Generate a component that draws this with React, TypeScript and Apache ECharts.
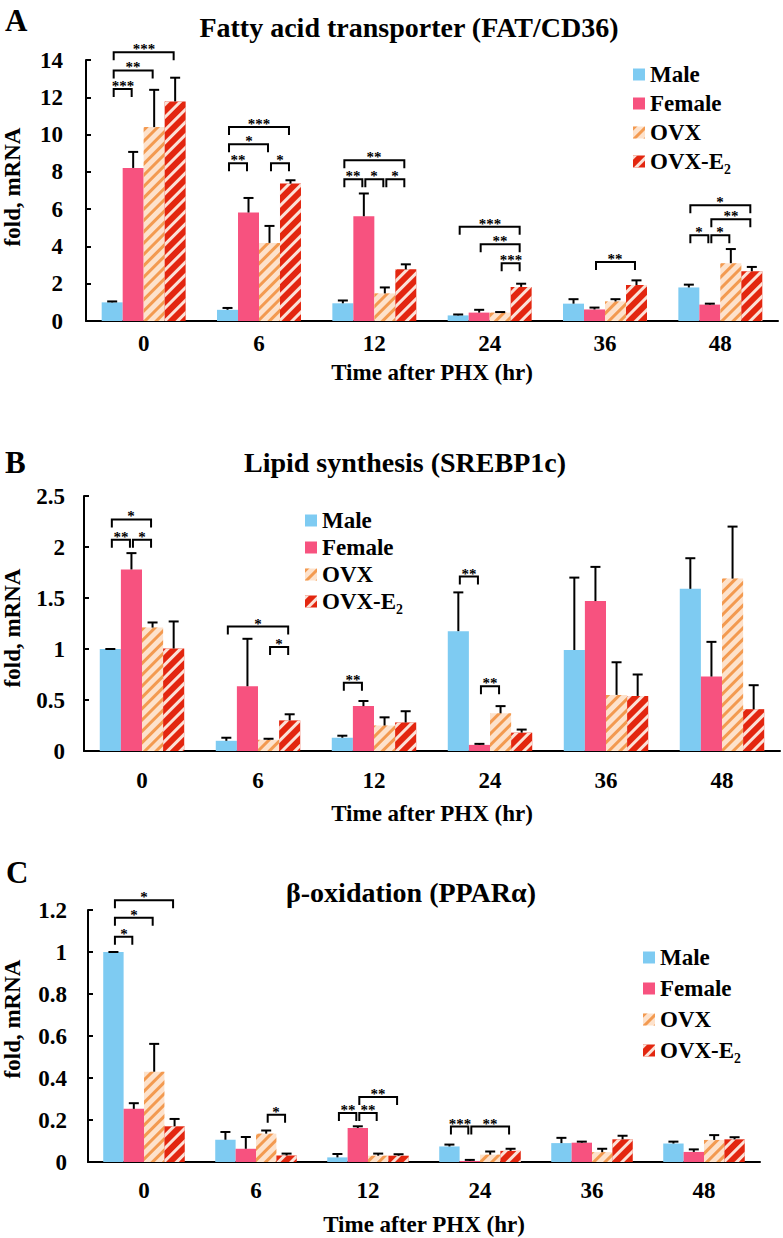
import React, { useEffect, useRef } from "react";
import * as echarts from "echarts";

const categories = ["0", "6", "12", "24", "36", "48"];
const groups = ["Male", "Female", "OVX", "OVX-E₂"];

// Panel A – FAT/CD36 (mean, and top of error bar)
const aMale = [1.0, 0.6, 0.95, 0.3, 0.93, 1.8];
const aMaleErr = [1.05, 0.7, 1.1, 0.35, 1.17, 1.95];
const aFemale = [8.21, 5.82, 5.62, 0.45, 0.62, 0.88];
const aFemaleErr = [9.07, 6.6, 6.84, 0.6, 0.72, 0.93];
const aOvx = [10.4, 4.19, 1.48, 0.45, 1.05, 3.1];
const aOvxErr = [12.4, 5.1, 1.8, 0.48, 1.17, 3.86];
const aE2 = [11.78, 7.37, 2.77, 1.83, 1.93, 2.67];
const aE2Err = [13.05, 7.55, 3.04, 2.0, 2.18, 2.9];
// brackets: [category, fromBar, toBar, height]
const aBrackets = [
  [0, 0, 1, 12.45], [0, 0, 2, 13.44], [0, 0, 3, 14.42],
  [1, 0, 3, 10.41], [1, 0, 2, 9.48], [1, 0, 1, 8.46], [1, 2, 3, 8.46],
  [2, 0, 3, 8.62], [2, 0, 1, 7.6], [2, 1, 2, 7.6], [2, 2, 3, 7.6],
  [3, 0, 3, 5.05], [3, 1, 3, 4.12], [3, 2, 3, 3.1],
  [4, 1, 3, 3.16],
  [5, 0, 3, 6.21], [5, 1, 3, 5.46], [5, 0, 1, 4.6], [5, 1, 2, 4.6],
];
const aBracketLabels = ["***", "**", "***", "***", "*", "**", "*", "**", "**", "*", "*", "***", "**", "***", "**", "*", "**", "*", "*"];

// Panel B – SREBP1c
const bMale = [1.0, 0.1, 0.13, 1.175, 0.99, 1.59];
const bMaleErr = [1.0, 0.13, 0.15, 1.555, 1.7, 1.89];
const bFemale = [1.78, 0.635, 0.44, 0.06, 1.47, 0.73];
const bFemaleErr = [1.94, 1.1, 0.49, 0.07, 1.805, 1.07];
const bOvx = [1.21, 0.11, 0.25, 0.37, 0.55, 1.69];
const bOvxErr = [1.26, 0.12, 0.33, 0.44, 0.87, 2.2];
const bE2 = [1.005, 0.3, 0.28, 0.18, 0.54, 0.41];
const bE2Err = [1.27, 0.36, 0.39, 0.21, 0.75, 0.645];
const bBrackets = [
  [0, 0, 2, 2.27], [0, 0, 1, 2.07], [0, 1, 2, 2.07],
  [1, 0, 3, 1.22], [1, 2, 3, 1.02],
  [2, 0, 1, 0.67],
  [3, 0, 1, 1.71], [3, 1, 2, 0.635],
];
const bBracketLabels = ["*", "**", "*", "*", "*", "**", "**", "**"];

// Panel C – PPARα
const cMale = [1.0, 0.106, 0.022, 0.074, 0.09, 0.088];
const cMaleErr = [1.0, 0.143, 0.038, 0.083, 0.115, 0.097];
const cFemale = [0.253, 0.063, 0.162, 0.005, 0.092, 0.048];
const cFemaleErr = [0.28, 0.119, 0.17, 0.01, 0.097, 0.06];
const cOvx = [0.43, 0.135, 0.03, 0.035, 0.047, 0.105];
const cOvxErr = [0.5625, 0.15, 0.04, 0.05, 0.063, 0.128];
const cE2 = [0.17, 0.031, 0.03, 0.053, 0.108, 0.108];
const cE2Err = [0.205, 0.04, 0.037, 0.063, 0.125, 0.118];
const cBrackets = [
  [0, 0, 1, 1.073], [0, 0, 2, 1.163], [0, 0, 3, 1.247],
  [1, 2, 3, 0.225],
  [2, 0, 1, 0.233], [2, 1, 2, 0.233], [2, 1, 3, 0.309],
  [3, 0, 1, 0.169], [3, 1, 3, 0.169],
];
const cBracketLabels = ["*", "*", "*", "*", "**", "**", "**", "***", "**"];

const FONT = '"Liberation Serif", "Times New Roman", serif';
const BAR_FRAC = 0.182;
const colors = ["#7ecbf2", "#f7527f", "#fde2cc", "#e3260f"];
const decals: any[] = [
  null,
  null,
  { symbol: "rect", symbolSize: 1, color: "#f39a50", dashArrayX: [1, 0], dashArrayY: [3, 5], rotation: -Math.PI / 4 },
  { symbol: "rect", symbolSize: 1, color: "#fbe2d8", dashArrayX: [1, 0], dashArrayY: [3, 6], rotation: -Math.PI / 4 },
];

function errRender(params: any, api: any) {
  const cat = api.value(0);
  const bi = api.value(1);
  const p0 = api.coord([cat, api.value(2)]);
  const p1 = api.coord([cat, api.value(3)]);
  const w = api.size([1, 0])[0] * BAR_FRAC;
  const x = p0[0] + (bi - 1.5) * w;
  return {
    type: "group",
    children: [
      { type: "line", shape: { x1: x, y1: p0[1], x2: x, y2: p1[1] }, style: { stroke: "#000", lineWidth: 2 } },
      { type: "line", shape: { x1: x - 5, y1: p1[1], x2: x + 5, y2: p1[1] }, style: { stroke: "#000", lineWidth: 2 } },
    ],
  };
}

function makeBracketRender(brackets: number[][], labels: string[]) {
  return (params: any, api: any) => {
    const b = brackets[params.dataIndex];
    const c = api.coord([b[0], b[3]]);
    const w = api.size([1, 0])[0] * BAR_FRAC;
    const x1 = c[0] + (b[1] - 1.5) * w + 1.5;
    const x2 = c[0] + (b[2] - 1.5) * w - 1.5;
    const y = c[1];
    return {
      type: "group",
      children: [
        {
          type: "polyline",
          shape: { points: [[x1, y + 8], [x1, y], [x2, y], [x2, y + 8]] },
          style: { stroke: "#000", lineWidth: 2, fill: null },
        },
        {
          type: "text",
          x: Math.round((x1 + x2) / 2),
          y: Math.round(y - 3),
          style: {
            text: labels[params.dataIndex],
            textAlign: "center",
            textVerticalAlign: "middle",
            font: `bold 15px ${FONT}`,
            fill: "#000",
          },
        },
      ],
    };
  };
}

type Panel = {
  values: number[][];
  errs: number[][];
  brackets: number[][];
  labels: string[];
  grid: any;
  max: number;
  interval: number;
  labelMargin: number;
  yLabelMargin: number;
  nameGap: number;
  legend: any;
};

const panels: Panel[] = [
  {
    values: [aMale, aFemale, aOvx, aE2],
    errs: [aMaleErr, aFemaleErr, aOvxErr, aE2Err],
    brackets: aBrackets,
    labels: aBracketLabels,
    grid: { left: 86, right: 5, top: 60, height: 261 },
    max: 14,
    interval: 2,
    labelMargin: 11,
    yLabelMargin: 23,
    nameGap: 40,
    legend: { left: 628, top: 58, itemGap: 6 },
  },
  {
    values: [bMale, bFemale, bOvx, bE2],
    errs: [bMaleErr, bFemaleErr, bOvxErr, bE2Err],
    brackets: bBrackets,
    labels: bBracketLabels,
    grid: { left: 84, right: 3, top: 496, height: 255 },
    max: 2.5,
    interval: 0.5,
    labelMargin: 18,
    yLabelMargin: 19,
    nameGap: 51,
    legend: { left: 300, top: 504, itemGap: 4 },
  },
  {
    values: [cMale, cFemale, cOvx, cE2],
    errs: [cMaleErr, cFemaleErr, cOvxErr, cE2Err],
    brackets: cBrackets,
    labels: cBracketLabels,
    grid: { left: 88, right: 23, top: 910, height: 252 },
    max: 1.2,
    interval: 0.2,
    labelMargin: 17,
    yLabelMargin: 21,
    nameGap: 51,
    legend: { left: 638, top: 941, itemGap: 8 },
  },
];

const titles = [
  { letter: "A", lx: 5, ly: 20, title: "Fatty acid transporter (FAT/CD36)", tx: 409, ty: 27, ny: 187 },
  { letter: "B", lx: 5, ly: 462, title: "Lipid synthesis (SREBP1c)", tx: 405, ty: 462, ny: 628 },
  { letter: "C", lx: 6, ly: 872, title: "β-oxidation (PPARα)", tx: 411, ty: 892, ny: 1019 },
];

function buildOption() {
  const grids: any[] = [];
  const xAxes: any[] = [];
  const yAxes: any[] = [];
  const series: any[] = [];
  const legends: any[] = [];
  const graphics: any[] = [];
  const labelStyle = { fontFamily: FONT, fontWeight: "bold", fontSize: 23, color: "#000" };

  panels.forEach((p, gi) => {
    grids.push(p.grid);
    xAxes.push({
      type: "category",
      gridIndex: gi,
      data: categories,
      axisLine: { lineStyle: { color: "#000", width: 2 } },
      axisTick: { inside: true, length: 6, lineStyle: { color: "#000", width: 2 } },
      axisLabel: { ...labelStyle, margin: p.labelMargin },
      name: "Time after PHX (hr)",
      nameLocation: "middle",
      nameGap: p.nameGap,
      nameTextStyle: labelStyle,
    });
    yAxes.push({
      type: "value",
      gridIndex: gi,
      min: 0,
      max: p.max,
      interval: p.interval,
      axisLine: { show: true, lineStyle: { color: "#000", width: 2 } },
      axisTick: { show: true, inside: true, length: 5, lineStyle: { color: "#000", width: 2 } },
      splitLine: { show: false },
      axisLabel: { ...labelStyle, margin: p.yLabelMargin },
    });
    p.values.forEach((vals, si) => {
      series.push({
        type: "bar",
        name: groups[si],
        xAxisIndex: gi,
        yAxisIndex: gi,
        data: vals,
        barWidth: BAR_FRAC * 100 + "%",
        barGap: "0%",
        itemStyle: decals[si] ? { color: colors[si], decal: decals[si] } : { color: colors[si] },
        z: 2,
      });
    });
    const errData: number[][] = [];
    p.values.forEach((vals, si) => {
      vals.forEach((v, ci) => errData.push([ci, si, v, p.errs[si][ci]]));
    });
    series.push({
      type: "custom",
      name: "err" + gi,
      xAxisIndex: gi,
      yAxisIndex: gi,
      renderItem: errRender,
      encode: { x: 0, y: [2, 3] },
      data: errData,
      itemStyle: { color: "#000" },
      z: 3,
      silent: true,
    });
    series.push({
      type: "custom",
      name: "sig" + gi,
      xAxisIndex: gi,
      yAxisIndex: gi,
      renderItem: makeBracketRender(p.brackets, p.labels),
      encode: { x: 0, y: 3 },
      data: p.brackets,
      itemStyle: { color: "#000" },
      clip: false,
      z: 4,
      silent: true,
    });
    legends.push({
      ...p.legend,
      orient: "vertical",
      data: groups,
      icon: "rect",
      itemWidth: 12,
      itemHeight: 12,
      selectedMode: false,
      textStyle: { fontFamily: FONT, fontWeight: "bold", fontSize: 23, color: "#000" },
    });
  });

  titles.forEach((t) => {
    graphics.push({
      type: "text",
      x: t.lx,
      y: t.ly,
      style: { text: t.letter, font: `bold 31px ${FONT}`, fill: "#000", textAlign: "left", textVerticalAlign: "middle" },
    });
    graphics.push({
      type: "text",
      x: t.tx,
      y: t.ty,
      style: { text: t.title, font: `bold 28px ${FONT}`, fill: "#000", textAlign: "center", textVerticalAlign: "middle" },
    });
    graphics.push({
      type: "text",
      x: 12,
      y: t.ny,
      rotation: Math.PI / 2,
      style: { text: "fold, mRNA", font: `bold 23px ${FONT}`, fill: "#000", textAlign: "center", textVerticalAlign: "middle" },
    });
  });

  return {
    animation: false,
    backgroundColor: "#fff",
    color: ["#000"],
    grid: grids,
    xAxis: xAxes,
    yAxis: yAxes,
    legend: legends,
    series,
    graphic: graphics,
  };
}

export default function App() {
  const ref = useRef<HTMLDivElement>(null);
  useEffect(() => {
    if (!ref.current) return;
    const chart = echarts.init(ref.current, null, { renderer: "svg" });
    chart.setOption(buildOption() as any);
    return () => chart.dispose();
  }, []);
  return (
    <div
      ref={ref}
      style={{ position: "absolute", left: 0, top: 0, width: 783, height: 1238, background: "#fff" }}
    />
  );
}
